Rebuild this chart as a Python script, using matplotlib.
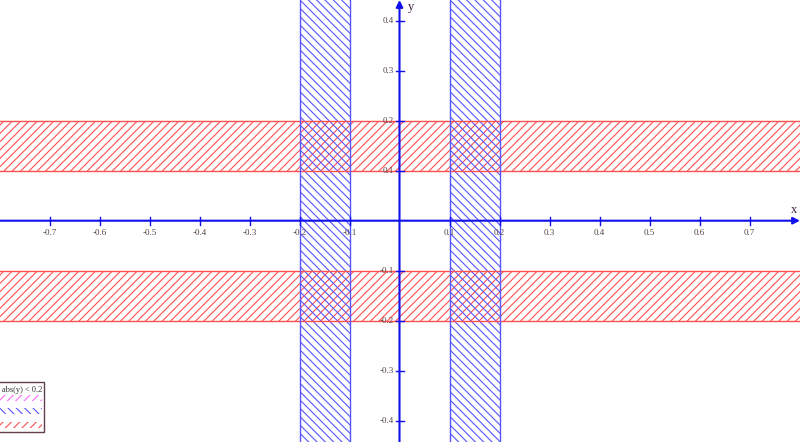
import matplotlib
matplotlib.use("Agg")
import matplotlib.pyplot as plt
from matplotlib.patches import Rectangle

# band limits
x_bands = [(-0.2, -0.1), (0.1, 0.2)]
y_bands = [(0.1, 0.2), (-0.2, -0.1)]
x_ticks = [-0.7, -0.6, -0.5, -0.4, -0.3, -0.2, -0.1, 0.1, 0.2, 0.3, 0.4, 0.5, 0.6, 0.7]
y_ticks = [-0.4, -0.3, -0.2, -0.1, 0.1, 0.2, 0.3, 0.4]
legend_text = "abs(y) < 0.2"

plt.rcParams['hatch.linewidth'] = 0.8
plt.rcParams['font.family'] = ['Liberation Serif', 'DejaVu Serif']

fig = plt.figure(figsize=(8, 4.42), dpi=100)
ax = fig.add_axes([0, 0, 1, 1])
ax.set_xlim(-0.799, 0.801)
ax.set_ylim(-0.4426, 0.4414)
ax.axis('off')

red = '#ff5050'
blue = '#5555ff'

# red horizontal bands
for lo, hi in y_bands:
    ax.axhspan(lo, hi, facecolor='none', edgecolor=red, hatch='////', lw=0)
    ax.axhline(lo, color=red, lw=1)
    ax.axhline(hi, color=red, lw=1)

# blue vertical bands
for lo, hi in x_bands:
    ax.axvspan(lo, hi, facecolor='none', edgecolor=blue, hatch='\\\\\\\\', lw=0)
    ax.axvline(lo, color=blue, lw=1)
    ax.axvline(hi, color=blue, lw=1)

# axes with arrows
axis_col = '#1010ee'
ax.annotate('', xy=(0.801, 0), xytext=(-0.799, 0),
            arrowprops=dict(arrowstyle='-|>', color=axis_col, lw=1.5, mutation_scale=10,
                            shrinkA=0, shrinkB=0))
ax.annotate('', xy=(0, 0.4414), xytext=(0, -0.4426),
            arrowprops=dict(arrowstyle='-|>', color=axis_col, lw=1.5, mutation_scale=10,
                            shrinkA=0, shrinkB=0))
ax.text(0.79, 0.01, 'x', fontsize=9, color='#402040', ha='center', va='bottom')
ax.text(0.022, 0.428, 'y', fontsize=9, color='#402040', ha='center', va='center')

lab_col = '#554444'
for t in x_ticks:
    ax.plot([t, t], [-0.008, 0.008], color=axis_col, lw=1)
    ax.text(t, -0.016, f'{t:.1f}', fontsize=6.5, color=lab_col, ha='center', va='top')
for t in y_ticks:
    ax.plot([-0.008, 0.008], [t, t], color=axis_col, lw=1)
    ax.text(-0.012, t, f'{t:.1f}', fontsize=6.5, color=lab_col, ha='right', va='center')

# legend box (cut off at left edge)
tr = ax.transAxes
def px(x, y):
    return (x / 800, 1 - y / 442)

x0, y0 = px(-10, 432)
x1, y1 = px(44, 382)
ax.add_patch(Rectangle((x0, y0), x1 - x0, y1 - y0, transform=tr, facecolor='white',
                       edgecolor='#604050', lw=1, zorder=5))
tx, ty = px(42, 390)
ax.text(tx, ty, legend_text, transform=tr, fontsize=6, color='#333333', ha='right',
        va='center', zorder=6)
for yc, col, h in [(398, '#ff66ff', '////'), (411, blue, '\\\\\\\\'), (425, red, '////')]:
    a, b = px(0, yc + 3)
    c, d = px(42, yc - 3)
    ax.add_patch(Rectangle((a, b), c - a, d - b, transform=tr, facecolor='none',
                           edgecolor=col, hatch=h, lw=0, zorder=6))

fig.savefig('out.png', dpi=100)
